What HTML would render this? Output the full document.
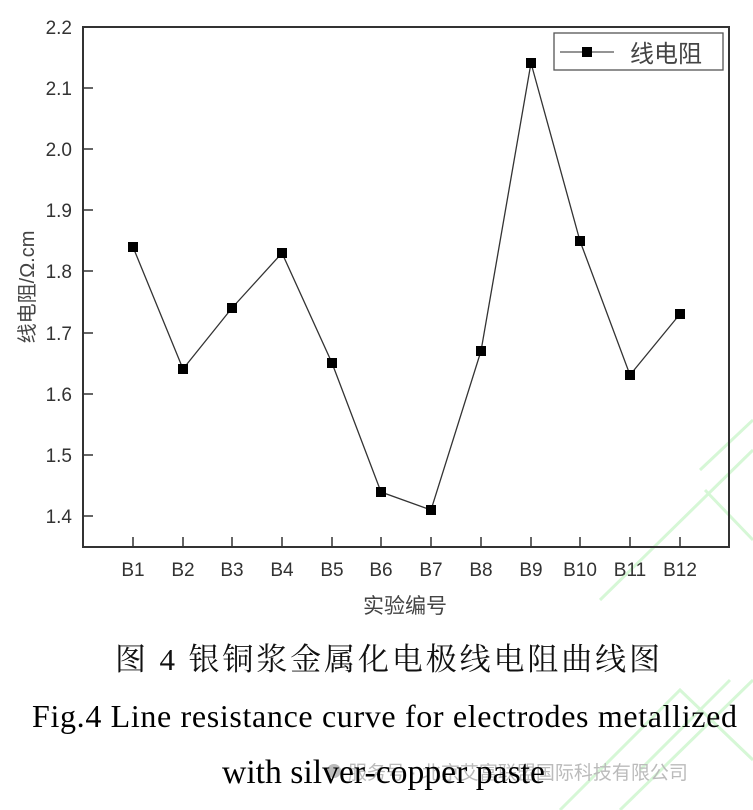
<!DOCTYPE html>
<html><head><meta charset="utf-8"><style>
html,body{margin:0;padding:0;background:#fff;width:753px;height:810px;overflow:hidden}
svg{display:block}
</style></head><body>
<svg width="753" height="810" xmlns="http://www.w3.org/2000/svg">
<g stroke="#d6f7d6" stroke-width="3" fill="none">
<polyline points="620,810 753,680"/>
<polyline points="700,470 753,420"/>
<polyline points="705,490 753,540"/>
<polyline points="560,810 680,690 753,760"/>
<polyline points="600,600 753,450"/>
<polyline points="640,770 730,680"/>
</g>
<g font-family="Liberation Sans, sans-serif" font-size="19" fill="#333" text-anchor="end">
<text x="72" y="34">2.2</text><text x="72" y="95">2.1</text><text x="72" y="156">2.0</text>
<text x="72" y="217">1.9</text><text x="72" y="278">1.8</text><text x="72" y="340">1.7</text>
<text x="72" y="401">1.6</text><text x="72" y="462">1.5</text><text x="72" y="523">1.4</text>
</g>
<rect x="83" y="27" width="646" height="520" fill="none" stroke="#333" stroke-width="2"/>
<g stroke="#333" stroke-width="1.5">
<line x1="83" y1="88" x2="93" y2="88"/><line x1="83" y1="149" x2="93" y2="149"/>
<line x1="83" y1="210" x2="93" y2="210"/><line x1="83" y1="271" x2="93" y2="271"/>
<line x1="83" y1="333" x2="93" y2="333"/><line x1="83" y1="394" x2="93" y2="394"/>
<line x1="83" y1="455" x2="93" y2="455"/><line x1="83" y1="516" x2="93" y2="516"/>
<line x1="133" y1="547" x2="133" y2="537"/><line x1="183" y1="547" x2="183" y2="537"/>
<line x1="232" y1="547" x2="232" y2="537"/><line x1="282" y1="547" x2="282" y2="537"/>
<line x1="332" y1="547" x2="332" y2="537"/><line x1="381" y1="547" x2="381" y2="537"/>
<line x1="431" y1="547" x2="431" y2="537"/><line x1="481" y1="547" x2="481" y2="537"/>
<line x1="531" y1="547" x2="531" y2="537"/><line x1="580" y1="547" x2="580" y2="537"/>
<line x1="630" y1="547" x2="630" y2="537"/><line x1="680" y1="547" x2="680" y2="537"/>
</g>
<g font-family="Liberation Sans, sans-serif" font-size="19" fill="#333" text-anchor="middle">
<text x="133" y="576">B1</text><text x="183" y="576">B2</text><text x="232" y="576">B3</text>
<text x="282" y="576">B4</text><text x="332" y="576">B5</text><text x="381" y="576">B6</text>
<text x="431" y="576">B7</text><text x="481" y="576">B8</text><text x="531" y="576">B9</text>
<text x="580" y="576">B10</text><text x="630" y="576">B11</text><text x="680" y="576">B12</text>
</g>
<polyline fill="none" stroke="#333" stroke-width="1.3" points="133,247 183,369 232,308 282,253 332,363 381,492 431,510 481,351 531,63 580,241 630,375 680,314"/>
<g fill="#000">
<rect x="128" y="242" width="10" height="10"/><rect x="178" y="364" width="10" height="10"/>
<rect x="227" y="303" width="10" height="10"/><rect x="277" y="248" width="10" height="10"/>
<rect x="327" y="358" width="10" height="10"/><rect x="376" y="487" width="10" height="10"/>
<rect x="426" y="505" width="10" height="10"/><rect x="476" y="346" width="10" height="10"/>
<rect x="526" y="58" width="10" height="10"/><rect x="575" y="236" width="10" height="10"/>
<rect x="625" y="370" width="10" height="10"/><rect x="675" y="309" width="10" height="10"/>
</g>
<rect x="554" y="33" width="169" height="37" fill="#fff" stroke="#555" stroke-width="1.3"/>
<line x1="560" y1="52" x2="614" y2="52" stroke="#555" stroke-width="1.3"/>
<rect x="582" y="47" width="10" height="10" fill="#000"/>
<text x="630" y="62" font-family="Liberation Sans, Noto Sans CJK SC, sans-serif" font-size="24" fill="#444">线电阻</text>
<text transform="translate(34,287) rotate(-90)" text-anchor="middle" font-family="Liberation Sans, Noto Sans CJK SC, sans-serif" font-size="20" fill="#444">线电阻/Ω.cm</text>
<text x="405" y="613" text-anchor="middle" font-family="Liberation Sans, Noto Sans CJK SC, sans-serif" font-size="21" fill="#444">实验编号</text>
<text x="115" y="670" font-family="Liberation Serif, Noto Serif CJK SC, serif" font-size="31" fill="#111" textLength="545" lengthAdjust="spacing">图 4  银铜浆金属化电极线电阻曲线图</text>
<text x="32" y="727" font-family="Liberation Serif, serif" font-size="32" fill="#000" textLength="705" lengthAdjust="spacing">Fig.4 Line resistance curve for electrodes metallized</text>
<circle cx="334" cy="771" r="7" fill="#bbb"/>
<text x="348" y="779" font-family="Liberation Sans, Noto Sans CJK SC, sans-serif" font-size="19" fill="#bbb">服务号 · 北京艾富联盟国际科技有限公司</text>
<text x="222" y="783" font-family="Liberation Serif, serif" font-size="34" fill="#000" textLength="323" lengthAdjust="spacingAndGlyphs">with silver-copper paste</text>
</svg>
</body></html>
